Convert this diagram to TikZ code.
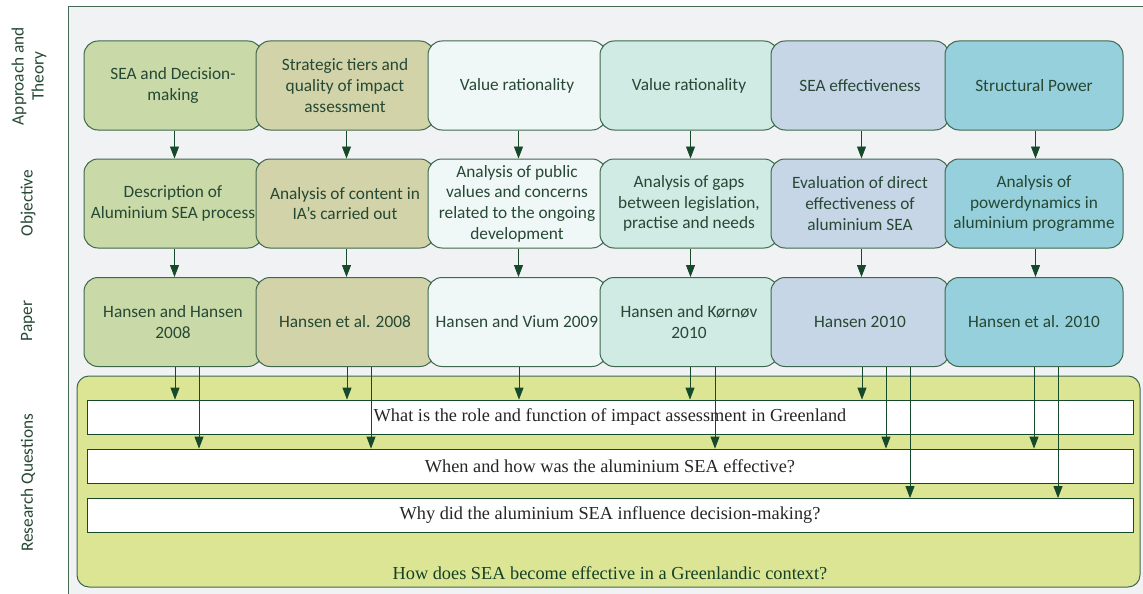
\documentclass[tikz,border=0pt]{standalone}
\usepackage{fontspec}
\setmainfont{Carlito}
\newfontfamily\questionfont{Liberation Serif}
\usetikzlibrary{arrows.meta}
\definecolor{panelgrey}{RGB}{241,242,244}
\definecolor{panelline}{RGB}{70,105,85}
\definecolor{boxedge}{RGB}{62,105,78}
\definecolor{arrowgreen}{RGB}{22,72,42}
\definecolor{labelgreen}{RGB}{38,72,52}
\definecolor{colA}{RGB}{201,218,168}
\definecolor{colB}{RGB}{210,211,168}
\definecolor{colC}{RGB}{240,248,247}
\definecolor{colD}{RGB}{208,234,228}
\definecolor{colE}{RGB}{198,214,230}
\definecolor{colF}{RGB}{150,208,220}
\definecolor{rqfill}{RGB}{220,229,148}
\tikzset{
  stage/.style={draw=boxedge, line width=1pt, rounded corners=14pt, minimum width=178pt, minimum height=89pt, align=center, inner sep=1pt, text=labelgreen, font=\fontsize{17.3}{20.7}\selectfont},
  question/.style={draw=arrowgreen, fill=white, line width=0.8pt, minimum width=1046pt, minimum height=34pt, inner sep=0pt, text=black!85, font=\questionfont\fontsize{18.3}{21}\selectfont},
  lane/.style={rotate=90, align=center, text=labelgreen, font=\fontsize{17.3}{20}\selectfont},
  flow/.style={draw=arrowgreen, line width=0.9pt, -{Triangle[length=12pt,width=9pt]}},
}
\begin{document}
\begin{tikzpicture}[x=1pt,y=-1pt]
                \useasboundingbox (0,0) rectangle (1143,594);
                \fill[panelgrey] (68,7) rectangle (1143,594);
                \draw[panelline, line width=1pt] (1143,7) -- (68,7) -- (68,594);
                \node[lane] (laneA) at (29,76) {Approach and\\Theory};
                \node[lane] (laneB) at (28,203) {Objective};
                \node[lane] (laneC) at (28,321) {Paper};
                \node[lane] (laneD) at (28,483) {Research Questions};
                \draw[boxedge, fill=rqfill, line width=1pt, rounded corners=12pt] (77,376) rectangle (1140,587);
                \node[question] (rqA) at (610,417) {What is the role and function of impact assessment in Greenland};
                \node[question] (rqB) at (610,466) {When and how was the aluminium SEA effective?};
                \node[question] (rqC) at (610,515.5) {Why did the aluminium SEA influence decision-making?};
                \node[text=arrowgreen!90!black, font=\questionfont\fontsize{18.3}{21}\selectfont] (rqMain) at (610,573) {How does SEA become effective in a Greenlandic context?};
                \node[stage, fill=colA] (theoryA) at (173,85.5) {SEA and Decision-\\making};
                \node[stage, fill=colB] (theoryB) at (345,85.5) {Strategic tiers and\\quality of impact\\assessment};
                \node[stage, fill=colC] (theoryC) at (517,85.5) {Value rationality};
                \node[stage, fill=colD] (theoryD) at (689,85.5) {Value rationality};
                \node[stage, fill=colE] (theoryE) at (860,85.5) {SEA effectiveness};
                \node[stage, fill=colF] (theoryF) at (1034,85.5) {Structural Power};
                \node[stage, fill=colA] (goalA) at (173,203.5) {Description of\\Aluminium SEA process};
                \node[stage, fill=colB] (goalB) at (345,203.5) {Analysis of content in\\IA’s carried out};
                \node[stage, fill=colC] (goalC) at (517,203.5) {Analysis of public\\values and concerns\\related to the ongoing\\development};
                \node[stage, fill=colD] (goalD) at (689,203.5) {Analysis of gaps\\between legislation,\\practise and needs};
                \node[stage, fill=colE] (goalE) at (860,203.5) {Evaluation of direct\\effectiveness of\\aluminium SEA};
                \node[stage, fill=colF] (goalF) at (1034,203.5) {Analysis of\\powerdynamics in\\aluminium programme};
                \node[stage, fill=colA] (paperA) at (173,322) {Hansen and Hansen\\2008};
                \node[stage, fill=colB] (paperB) at (345,322) {Hansen et al. 2008};
                \node[stage, fill=colC] (paperC) at (517,322) {Hansen and Vium 2009};
                \node[stage, fill=colD] (paperD) at (689,322) {Hansen and Kørnøv\\2010};
                \node[stage, fill=colE] (paperE) at (860,322) {Hansen 2010};
                \node[stage, fill=colF] (paperF) at (1034,322) {Hansen et al. 2010};
                \foreach \c in {A,B,C,D,E,F} {
                    \draw[flow] ([xshift=1.5pt]theory\c.south) -- ([xshift=1.5pt]goal\c.north);
                    \draw[flow] ([xshift=1.5pt]goal\c.south) -- ([xshift=1.5pt]paper\c.north);
                }
                \draw[flow] ([xshift=2pt]paperA.south) -- ([xshift=2pt]paperA.south |- rqA.north);
                \draw[flow] ([xshift=26pt]paperA.south) -- ([xshift=26pt]paperA.south |- rqB.north);
                \draw[flow] ([xshift=2pt]paperB.south) -- ([xshift=2pt]paperB.south |- rqA.north);
                \draw[flow] ([xshift=26pt]paperB.south) -- ([xshift=26pt]paperB.south |- rqB.north);
                \draw[flow] ([xshift=2pt]paperC.south) -- ([xshift=2pt]paperC.south |- rqA.north);
                \draw[flow] ([xshift=1pt]paperD.south) -- ([xshift=1pt]paperD.south |- rqA.north);
                \draw[flow] ([xshift=26pt]paperD.south) -- ([xshift=26pt]paperD.south |- rqB.north);
                \draw[flow] ([xshift=2pt]paperE.south) -- ([xshift=2pt]paperE.south |- rqA.north);
                \draw[flow] ([xshift=26pt]paperE.south) -- ([xshift=26pt]paperE.south |- rqB.north);
                \draw[flow] ([xshift=50pt]paperE.south) -- ([xshift=50pt]paperE.south |- rqC.north);
                \draw[flow] ([xshift=0pt]paperF.south) -- ([xshift=0pt]paperF.south |- rqB.north);
                \draw[flow] ([xshift=24pt]paperF.south) -- ([xshift=24pt]paperF.south |- rqC.north);
            \end{tikzpicture}
\end{document}
